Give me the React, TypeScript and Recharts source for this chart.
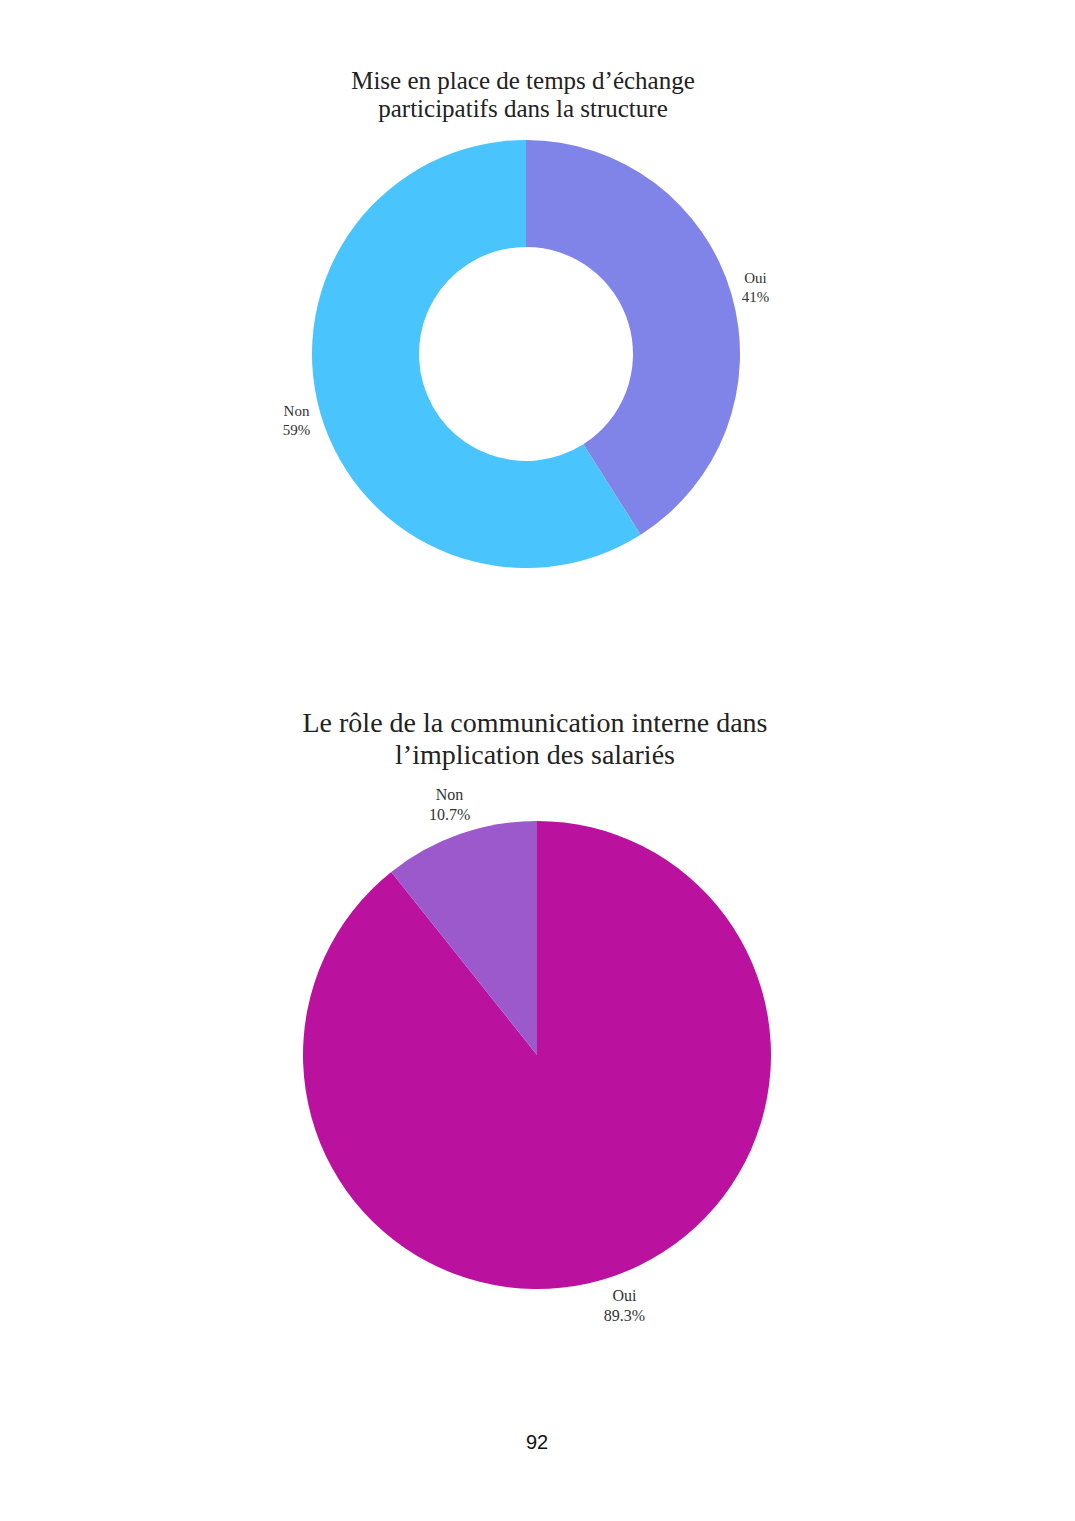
import { Cell, Pie, PieChart } from "recharts";

const PAGE_W = 1075;
const PAGE_H = 1521;

// Chart 1: participatory exchange time
const TITLE_1 = ["Mise en place de temps d’échange", "participatifs dans la structure"];
const CATS_1 = ["Oui", "Non"];
const VALUES_1 = [41, 59];
const COLORS_1 = ["#8083E8", "#4AC4FC"];

// Chart 2: role of internal communication
const TITLE_2 = ["Le rôle de la communication interne dans", "l’implication des salariés"];
const CATS_2 = ["Oui", "Non"];
const VALUES_2 = [89.3, 10.7];
const COLORS_2 = ["#BA129F", "#9B59CB"];

const PAGE_NUMBER = "92";

const SERIF = "'Liberation Serif', 'DejaVu Serif', serif";
const RADIAN = Math.PI / 180;
const NO_MARGIN = { top: 0, right: 0, bottom: 0, left: 0 };

function makeLabel(offset: number, fontSize: number, gap: number) {
	return (props: any) => {
		const { cx, cy, midAngle, outerRadius, name, value } = props;
		const r = outerRadius + offset;
		const x = cx + r * Math.cos(-midAngle * RADIAN);
		const y = cy + r * Math.sin(-midAngle * RADIAN);
		return (
			<text
				x={x}
				y={y}
				textAnchor="middle"
				fill="#333"
				fontFamily={SERIF}
				fontSize={fontSize}
			>
				<tspan x={x} y={y - gap / 2} dominantBaseline="central">
					{name}
				</tspan>
				<tspan x={x} y={y + gap / 2} dominantBaseline="central">
					{`${value}%`}
				</tspan>
			</text>
		);
	};
}

function Title({ lines, top, center, size, lineHeight }: { lines: string[]; top: number; center: number; size: number; lineHeight: number }) {
	return (
		<div
			style={{
				position: "absolute",
				top,
				left: center - 300,
				width: 600,
				textAlign: "center",
				fontFamily: SERIF,
				fontSize: size,
				lineHeight: `${lineHeight}px`,
				color: "#222",
			}}
		>
			{lines.map((l) => (
				<div key={l}>{l}</div>
			))}
		</div>
	);
}

export default function App() {
	const data1 = CATS_1.map((name, i) => ({ name, value: VALUES_1[i] }));
	const data2 = CATS_2.map((name, i) => ({ name, value: VALUES_2[i] }));

	return (
		<div
			style={{
				position: "absolute",
				top: 0,
				left: 0,
				width: PAGE_W,
				height: PAGE_H,
				background: "#fff",
				overflow: "hidden",
			}}
		>
			<Title lines={TITLE_1} top={67} center={523} size={25} lineHeight={28} />
			<div style={{ position: "absolute", top: 0, left: 0 }}>
				<PieChart width={PAGE_W} height={640} margin={NO_MARGIN}>
					<Pie
						data={data1}
						dataKey="value"
						nameKey="name"
						cx={526}
						cy={354}
						innerRadius={107}
						outerRadius={214}
						startAngle={90}
						endAngle={-270}
						stroke="none"
						labelLine={false}
						label={makeLabel(25, 15, 19)}
						isAnimationActive={false}
					>
						{data1.map((d, i) => (
							<Cell key={d.name} fill={COLORS_1[i]} />
						))}
					</Pie>
				</PieChart>
			</div>

			<Title lines={TITLE_2} top={707} center={535} size={28} lineHeight={32} />
			<div style={{ position: "absolute", top: 640, left: 0 }}>
				<PieChart width={PAGE_W} height={780} margin={NO_MARGIN}>
					<Pie
						data={data2}
						dataKey="value"
						nameKey="name"
						cx={537}
						cy={415}
						innerRadius={0}
						outerRadius={234}
						startAngle={90}
						endAngle={-270}
						stroke="none"
						labelLine={false}
						label={makeLabel(31, 16, 20)}
						isAnimationActive={false}
					>
						{data2.map((d, i) => (
							<Cell key={d.name} fill={COLORS_2[i]} />
						))}
					</Pie>
				</PieChart>
			</div>

			<div
				style={{
					position: "absolute",
					top: 1431,
					left: 487,
					width: 100,
					textAlign: "center",
					fontFamily: "'Liberation Sans', Arial, sans-serif",
					fontSize: 20,
					color: "#111",
				}}
			>
				{PAGE_NUMBER}
			</div>
		</div>
	);
}
